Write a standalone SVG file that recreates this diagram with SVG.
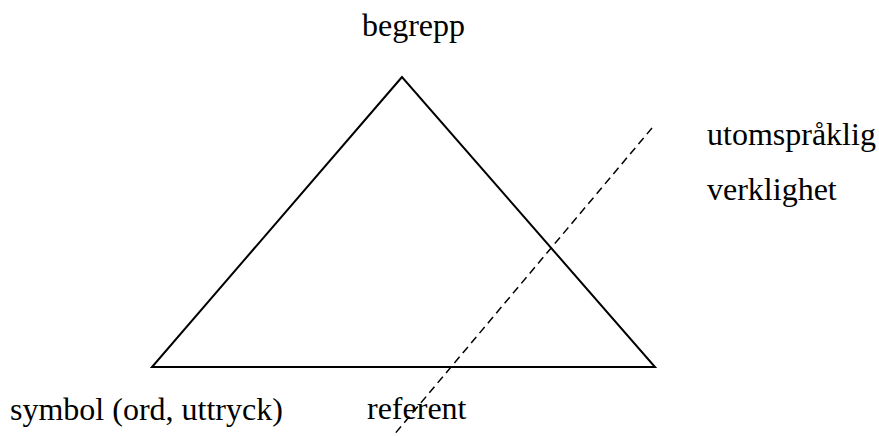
<svg xmlns="http://www.w3.org/2000/svg" width="879" height="436" viewBox="0 0 879 436">
<style>
text{font-family:'Liberation Serif','Times New Roman','DejaVu Serif',serif;font-size:32px;fill:#000}
.tri{fill:none;stroke:#000;stroke-width:2}
.dash{stroke:#000;stroke-width:1.5;stroke-dasharray:8 5;fill:none}
</style>
<rect width="879" height="436" fill="#fff"/>
<g id="triangle"><polygon class="tri" points="402,77 152,367 655,367"/></g>
<g id="connectors"><line class="dash" x1="652" y1="128" x2="393" y2="436"/></g>
<g id="begrepp"><text x="362" y="36">begrepp</text></g>
<g id="utomspraklig"><text x="707" y="145">utomspråklig</text></g>
<g id="verklighet"><text x="707" y="200">verklighet</text></g>
<g id="symbol"><text x="10" y="420">symbol (ord, uttryck)</text></g>
<g id="referent"><text x="367" y="419">referent</text></g>
</svg>
